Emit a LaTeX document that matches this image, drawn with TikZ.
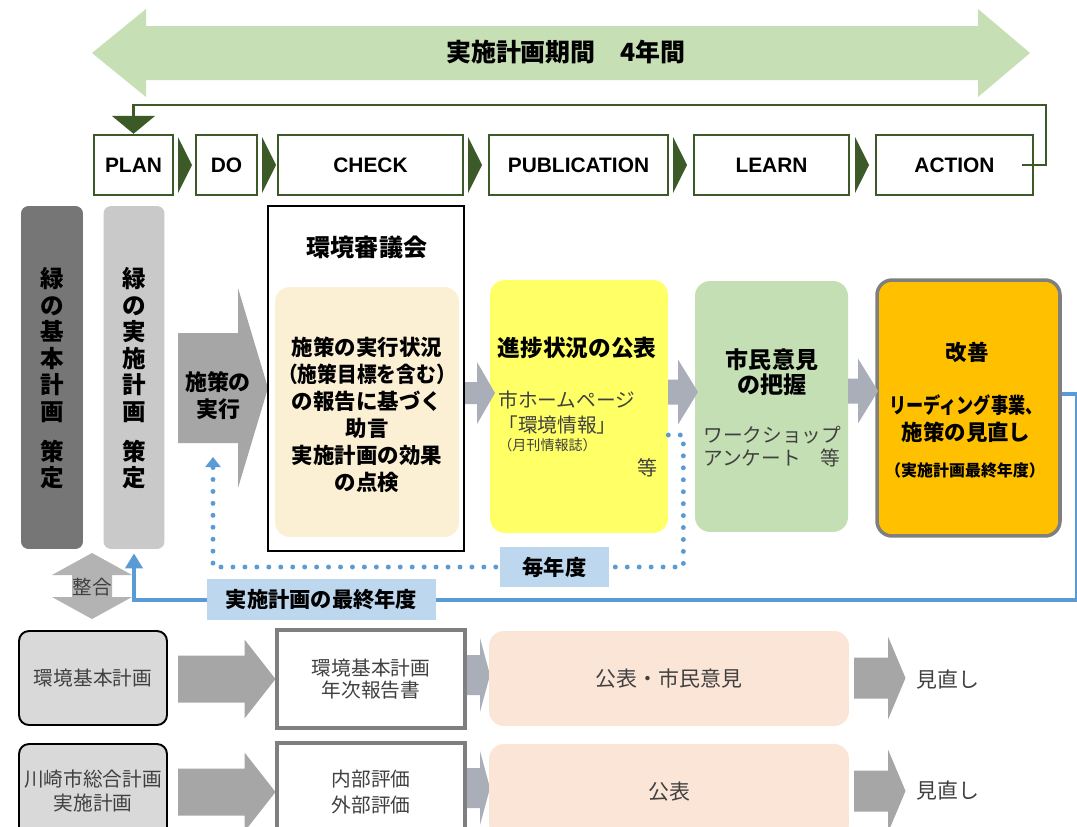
\documentclass[tikz,border=0pt]{standalone}
\usepackage{fontspec}
\usepackage{graphicx}
\setmainfont{Noto Sans CJK JP}
\newfontfamily\latinfont{Liberation Sans}
\usetikzlibrary{arrows.meta}
\definecolor{pdcagreen}{HTML}{3B5A28}
\definecolor{spangreen}{HTML}{C6DFB5}
\definecolor{bargray}{HTML}{767676}
\definecolor{barlight}{HTML}{C9C9C9}
\definecolor{arrowgray}{HTML}{A6A6A6}
\definecolor{arrowblue}{HTML}{A9AEB9}
\definecolor{councilbg}{HTML}{FCF0D4}
\definecolor{pubyellow}{HTML}{FFFF66}
\definecolor{learngreen}{HTML}{C5DFB5}
\definecolor{actorange}{HTML}{FFC000}
\definecolor{loopblue}{HTML}{5B9BD5}
\definecolor{tagblue}{HTML}{BDD7EE}
\definecolor{rowbeige}{HTML}{FBE5D6}
\definecolor{rowgray}{HTML}{D9D9D9}
\definecolor{docgray}{HTML}{7F7F7F}
\definecolor{txtgray}{HTML}{404040}
\newcommand{\fsz}[2]{\fontsize{#1}{#2}\selectfont}
% block arrow: colour, shaft start, head base, tip, centre y, shaft half, head half
\newcommand{\blockarrow}[7]{\fill[#1] (#2,#5-#6) -- (#3,#5-#6) -- (#3,#5-#7) -- (#4,#5) -- (#3,#5+#7) -- (#3,#5+#6) -- (#2,#5+#6) -- cycle;}

\begin{document}
\begin{tikzpicture}[x=0.02cm,y=-0.02cm,
  pdca/.style={draw=pdcagreen,line width=1.4pt,fill=white,minimum height=1.2cm,inner sep=0pt,font=\latinfont\bfseries\fsz{11.9pt}{14pt}},
  bar/.style={rounded corners=0.15cm,minimum width=1.22cm,minimum height=6.86cm,inner sep=0pt},
  vtext/.style={align=center,font=\bfseries\fsz{13.4pt}{15.1pt}},
  card/.style={rounded corners=0.3cm,inner sep=0pt},
  bold/.style={align=center,font=\bfseries\fsz{12.2pt}{15.4pt}},
  plain/.style={align=center,text=txtgray,font=\fsz{11.2pt}{13pt}},
  tag/.style={fill=tagblue,inner sep=0pt,minimum height=0.81cm,font=\bfseries\fsz{12.1pt}{14pt}},
  rowbox/.style={plain,fill=rowgray,draw=black,line width=1.1pt,rounded corners=0.2cm,minimum width=2.96cm,minimum height=1.88cm,inner sep=0pt},
  docbox/.style={plain,fill=white,draw=docgray,line width=2.3pt,minimum width=3.76cm,minimum height=1.96cm,inner sep=0pt},
  loopline/.style={draw=loopblue,line width=2.2pt},
  dotline/.style={draw=loopblue,line width=2.8pt,line cap=round,dash pattern=on 0pt off 6.8pt}]
\useasboundingbox (0,0) rectangle (1077,826);
\clip (0,0) rectangle (1077,826);
\fill[white] (0,0) rectangle (1077,826);

% period arrow
\fill[spangreen] (92,53) -- (146,9) -- (146,26) -- (978,26) -- (978,9) -- (1030,53) -- (978,97) -- (978,80) -- (146,80) -- (146,97) -- cycle;
\node[font=\bfseries\fsz{14.2pt}{16pt}] (period) at (566,52) {実施計画期間　4年間};

% PDCA row
\node[pdca,minimum width=1.58cm] (plan) at (133.5,165) {PLAN};
\node[pdca,minimum width=1.22cm] (do) at (226.5,165) {DO};
\node[pdca,minimum width=3.70cm] (check) at (370.5,165) {CHECK};
\node[pdca,minimum width=3.58cm] (pub) at (578.5,165) {PUBLICATION};
\node[pdca,minimum width=3.10cm] (learn) at (771.5,165) {LEARN};
\node[pdca,minimum width=3.14cm] (action) at (954.5,165) {ACTION};
\foreach \tx in {178,262,468,673,855}
  \fill[pdcagreen] (\tx,137) -- (\tx+14,165) -- (\tx,193) -- cycle;
\coordinate (looptop) at (0,105);
\draw[pdcagreen,line width=1.4pt,-{Triangle[length=0.36cm,width=0.86cm]}]
  ([xshift=-0.24cm]action.east) -- ++(24,0) |- (plan.north |- looptop) -- (plan.north);

% left bars
\node[bar,fill=bargray,minimum width=1.24cm] (basic) at (52,377.5) {};
\node[vtext] (basictext) at (52,378.5) {緑\\の\\基\\本\\計\\画\\[7.7pt]策\\定};
\node[bar,fill=barlight] (impl) at (134,377.5) {};
\node[vtext] (impltext) at (134,378.5) {緑\\の\\実\\施\\計\\画\\[7.7pt]策\\定};

% policy execution
\blockarrow{arrowgray}{178}{238}{268}{388}{55}{100}
\node[bold,font=\bfseries\fsz{12.5pt}{15.4pt}] (exec) at (218,396) {施策の\\実行};

% council
\node[draw=black,line width=1.2pt,minimum width=3.92cm,minimum height=6.9cm,inner sep=0pt] (council) at (366,378.5) {};
\node[font=\bfseries\fsz{13.7pt}{16pt}] (counciltitle) at (367,247) {環境審議会};
\node[card,fill=councilbg,minimum width=3.68cm,minimum height=5cm] (review) at (367,412) {};
\node[bold] (reviewtext) at (367,414.5) {施策の実行状況\\\scalebox{0.92}[1]{（施策目標を含む）}\\の報告に基づく\\助言\\実施計画の効果\\の点検};

% publication
\node[card,fill=pubyellow,minimum width=3.56cm,minimum height=5.06cm] (publish) at (579,406.5) {};
\blockarrow{arrowblue}{465}{477}{495}{393}{11}{31}
\node[bold,font=\bfseries\fsz{12.9pt}{15pt}] (publishtitle) at (577,348) {進捗状況の公表};
\node[plain,anchor=west,inner sep=0pt] (homepage) at (498,400) {市ホームページ};
\node[plain,anchor=west,inner sep=0pt] (envinfo) at (498,425) {「環境情報」};
\node[plain,anchor=west,inner sep=0pt,font=\fsz{8pt}{10pt}] (monthly) at (498,445) {（月刊情報誌）};
\node[plain,font=\fsz{11.4pt}{13pt}] (publishetc) at (648,468) {等};

% learn
\node[card,fill=learngreen,minimum width=3.06cm,minimum height=5.02cm] (opinion) at (771.5,406.5) {};
\blockarrow{arrowblue}{668}{678}{698}{392}{12.5}{32.5}
\node[bold,font=\bfseries\fsz{13.1pt}{14.2pt}] (opiniontitle) at (772,372.5) {市民意見\\の把握};
\node[plain,anchor=west,align=left,inner sep=0pt,font=\fsz{11.2pt}{13.1pt}] (workshop) at (703,446.5) {ワークショップ\\アンケート　等};

% action
\node[card,fill=actorange,draw=docgray,line width=2pt,minimum width=3.66cm,minimum height=5.12cm] (kaizen) at (968.5,408) {};
\blockarrow{arrowblue}{848}{858}{878}{391}{12.5}{32.5}
\node[bold] (kaizentitle) at (967,352) {改善};
\node[bold] (kaizentext) at (966,418.5) {\scalebox{0.8}[1]{リーディング事業、}\\施策の見直し};
\node[bold,font=\bfseries\fsz{9.1pt}{11pt}] (kaizenyear) at (965,470) {（実施計画最終年度）};

% feedback loops
\coordinate (exectip) at (213,457);
\draw[dotline,-{Triangle[length=0.2cm,width=0.3cm]}]
  ([yshift=-0.57cm]publish.east) -- ++(15,0) |- (exectip |- 0,567) -- (exectip);
\draw[loopline,-{Triangle[length=0.3cm,width=0.34cm]}]
  ([yshift=0.28cm]kaizen.east) -- ++(15,0) |- (impl.south |- 0,600) -- ([yshift=-0.08cm]impl.south);
\node[tag,minimum width=2.18cm] (yearly) at (554.5,567) {毎年度};
\node[tag,minimum width=4.58cm] (finaltag) at (321.5,599.5) {実施計画の最終年度};

% consistency
\fill[arrowgray!85] (92,553) -- (132,575) -- (112,575) -- (112,597) -- (132,597) -- (92,619) -- (52,597) -- (72,597) -- (72,575) -- (52,575) -- cycle;
\node[plain,font=\fsz{11.1pt}{13pt}] (consist) at (92,587) {整合};

% lower rows
\node[rowbox] (envplan) at (93,678) {環境基本計画};
\blockarrow{arrowgray}{178}{244.5}{275.5}{679}{23.5}{39.5}
\blockarrow{arrowblue}{465}{480}{490}{675}{20}{37}
\node[docbox,font=\fsz{11.2pt}{12.8pt}] (envreport) at (371,679) {環境基本計画\\年次報告書};
\node[card,fill=rowbeige,minimum width=7.2cm,minimum height=1.9cm,text=txtgray,font=\fsz{11.9pt}{14pt}] (envpub) at (669,678.5) {公表・市民意見};
\blockarrow{arrowgray}{854}{888}{905.5}{678}{20.5}{41.5}
\node[plain,font=\fsz{11.9pt}{14pt}] (envrev) at (948,680) {見直し};

\node[rowbox,font=\fsz{11.2pt}{13.9pt}] (cityplan) at (93,791) {川崎市総合計画\\実施計画};
\blockarrow{arrowgray}{178}{244.5}{275.5}{792}{23.5}{39.5}
\blockarrow{arrowblue}{465}{480}{490}{788}{20}{37}
\node[docbox,font=\fsz{11.2pt}{14.8pt}] (cityeval) at (371,792) {内部評価\\外部評価};
\node[card,fill=rowbeige,minimum width=7.2cm,minimum height=1.9cm,text=txtgray,font=\fsz{11.9pt}{14pt}] (citypub) at (669,791.5) {公表};
\blockarrow{arrowgray}{854}{888}{905.5}{791}{20.5}{41.5}
\node[plain,font=\fsz{11.9pt}{14pt}] (cityrev) at (948,791) {見直し};
\end{tikzpicture}
\end{document}
